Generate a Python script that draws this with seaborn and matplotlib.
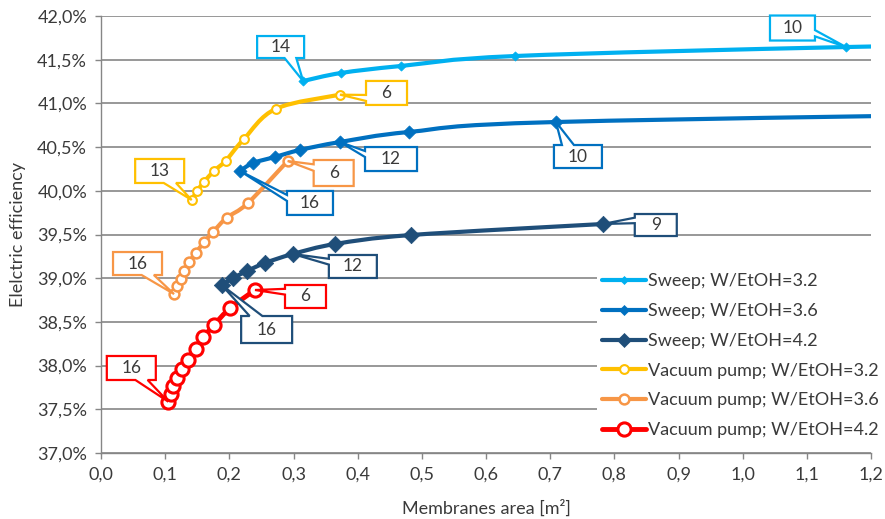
import numpy as np
import pandas as pd
import seaborn as sns
import matplotlib
matplotlib.use("Agg")
import matplotlib.pyplot as plt
import matplotlib.transforms as mtransforms
from matplotlib.path import Path
from matplotlib.patches import PathPatch, Polygon
from matplotlib.lines import Line2D
from matplotlib.ticker import FuncFormatter

# ---------------------------------------------------------------------------
# Data: membrane area [m2] vs electric efficiency [%]; "n" is the number of
# modules/stages used for each operating point.
# ---------------------------------------------------------------------------
sweep_32_area = [0.315, 0.374, 0.4675, 0.645, 1.161, 1.60]
sweep_32_eff = [41.256, 41.348, 41.428, 41.542, 41.645, 41.70]
sweep_32_n = [14, 13, 12, 11, 10, 9]

sweep_36_area = [0.2166, 0.237, 0.271, 0.310, 0.3725, 0.480, 0.709, 1.60]
sweep_36_eff = [40.227, 40.318, 40.387, 40.467, 40.558, 40.673, 40.787, 40.90]
sweep_36_n = [16, 15, 14, 13, 12, 11, 10, 9]

sweep_42_area = [0.188, 0.206, 0.2275, 0.2556, 0.299, 0.3647, 0.483, 0.782]
sweep_42_eff = [38.922, 39.002, 39.082, 39.174, 39.277, 39.391, 39.494, 39.620]
sweep_42_n = [16, 15, 14, 13, 12, 11, 10, 9]

vac_32_area = [0.1413, 0.1496, 0.1605, 0.176, 0.1943, 0.2228, 0.2727, 0.3725]
vac_32_eff = [39.895, 39.998, 40.101, 40.227, 40.344, 40.593, 40.939, 41.100]
vac_32_n = [13, 12, 11, 10, 9, 8, 7, 6]

vac_36_area = [0.1138, 0.118, 0.1242, 0.1298, 0.1376, 0.148, 0.1605, 0.175,
               0.1959, 0.2286, 0.2909]
vac_36_eff = [38.819, 38.911, 38.994, 39.082, 39.185, 39.292, 39.411, 39.532,
              39.692, 39.857, 40.341]
vac_36_n = [16, 15, 14, 13, 12, 11, 10, 9, 8, 7, 6]

vac_42_area = [0.1049, 0.1085, 0.1127, 0.1189, 0.1258, 0.136, 0.1476, 0.1594,
               0.1761, 0.201, 0.240]
vac_42_eff = [37.587, 37.675, 37.767, 37.855, 37.958, 38.064, 38.190, 38.324,
              38.465, 38.656, 38.865]
vac_42_n = [16, 15, 14, 13, 12, 11, 10, 9, 8, 7, 6]

series_names = ["Sweep; W/EtOH=3.2", "Sweep; W/EtOH=3.6", "Sweep; W/EtOH=4.2",
                "Vacuum pump; W/EtOH=3.2", "Vacuum pump; W/EtOH=3.6",
                "Vacuum pump; W/EtOH=4.2"]

x_ticks = [0.0, 0.1, 0.2, 0.3, 0.4, 0.5, 0.6, 0.7, 0.8, 0.9, 1.0, 1.1, 1.2]
y_ticks = [37.0, 37.5, 38.0, 38.5, 39.0, 39.5, 40.0, 40.5, 41.0, 41.5, 42.0]

frames = []
for name, a, e, n in zip(series_names,
                         [sweep_32_area, sweep_36_area, sweep_42_area, vac_32_area, vac_36_area, vac_42_area],
                         [sweep_32_eff, sweep_36_eff, sweep_42_eff, vac_32_eff, vac_36_eff, vac_42_eff],
                         [sweep_32_n, sweep_36_n, sweep_42_n, vac_32_n, vac_36_n, vac_42_n]):
    frames.append(pd.DataFrame({"series": name, "area": a, "eff": e, "n": n}))
df = pd.concat(frames, ignore_index=True)

# Styles per series: colour, line width, marker, marker size, face, edge width
styles = {
    "Sweep; W/EtOH=3.2": dict(color="#00B0F0", lw=3.0, marker="D", s=22, face=None, mew=0.5),
    "Sweep; W/EtOH=3.6": dict(color="#0070C0", lw=3.0, marker="D", s=45, face=None, mew=0.5),
    "Sweep; W/EtOH=4.2": dict(color="#1F4E79", lw=3.0, marker="D", s=70, face=None, mew=0.5),
    "Vacuum pump; W/EtOH=3.2": dict(color="#FFC000", lw=3.0, marker="o", s=40, face="white", mew=1.5),
    "Vacuum pump; W/EtOH=3.6": dict(color="#F79646", lw=3.0, marker="o", s=50, face="white", mew=1.8),
    "Vacuum pump; W/EtOH=4.2": dict(color="#FF0000", lw=3.5, marker="o", s=90, face="white", mew=2.2),
}

# Callouts: series, index of the point, box centre offset (px, downward positive), box size (px)
callouts = [
    ("Sweep; W/EtOH=3.2", 0, (-22.5, -34), (47, 22)),
    ("Sweep; W/EtOH=3.2", 4, (-53.5, -19), (45, 25)),
    ("Sweep; W/EtOH=3.6", 0, (70, 32), (46, 24)),
    ("Sweep; W/EtOH=3.6", 4, (51, 17), (52, 24)),
    ("Sweep; W/EtOH=3.6", 6, (22, 34.5), (48, 23)),
    ("Sweep; W/EtOH=4.2", 0, (45, 44.5), (51, 27)),
    ("Sweep; W/EtOH=4.2", 4, (60, 12.5), (48, 23)),
    ("Sweep; W/EtOH=4.2", 7, (53, 1), (42, 22)),
    ("Vacuum pump; W/EtOH=3.2", 0, (-32, -29), (49, 24)),
    ("Vacuum pump; W/EtOH=3.2", 7, (46.5, -1.7), (41, 24)),
    ("Vacuum pump; W/EtOH=3.6", 0, (-36.5, -30.5), (49, 23)),
    ("Vacuum pump; W/EtOH=3.6", 10, (46, 12), (40, 26)),
    ("Vacuum pump; W/EtOH=4.2", 0, (-37, -33.7), (49, 24)),
    ("Vacuum pump; W/EtOH=4.2", 10, (50.5, 6.5), (41, 23)),
]

sns.set_theme(style="white")
plt.rcParams["font.family"] = ["Lato", "DejaVu Sans"]
TEXT = "#3a3a3a"
GRID = "#868686"
FS = 13

fig = plt.figure(figsize=(8.85, 5.19), dpi=100)
ax = fig.add_axes([101 / 885, 1 - 453 / 519, 770 / 885, 437 / 519])


def smooth_path(x, y):
    """Bezier path through the points, smoothed like a spreadsheet chart line."""
    pts = np.column_stack([x, y]).astype(float)
    n = len(pts)
    verts = [pts[0]]
    codes = [Path.MOVETO]
    for i in range(n - 1):
        p0 = pts[i - 1] if i > 0 else pts[i]
        p1, p2 = pts[i], pts[i + 1]
        p3 = pts[i + 2] if i + 2 < n else pts[i + 1]
        verts += [p1 + (p2 - p0) / 6.0, p2 - (p3 - p1) / 6.0, p2]
        codes += [Path.CURVE4] * 3
    return Path(verts, codes)


handles = []
for k, name in enumerate(series_names):
    st = styles[name]
    d = df[df["series"] == name]
    ax.add_patch(PathPatch(smooth_path(d["area"], d["eff"]), fill=False,
                           edgecolor=st["color"], lw=st["lw"], zorder=3 + 2 * k,
                           capstyle="round", joinstyle="round"))
    face = st["face"] if st["face"] else st["color"]
    sns.scatterplot(data=d, x="area", y="eff", ax=ax, marker=st["marker"], s=st["s"],
                    color=face, edgecolor=st["color"], linewidth=st["mew"],
                    zorder=4 + 2 * k, legend=False)
    ms = np.sqrt(st["s"])
    handles.append(Line2D([], [], color=st["color"], lw=st["lw"], marker=st["marker"],
                          markersize=ms * (0.8 if st["marker"] == "D" else 1.0),
                          markerfacecolor=face, markeredgecolor=st["color"],
                          markeredgewidth=st["mew"]))

ax.set_xlim(0, 1.2)
ax.set_ylim(37, 42)
ax.set_xticks(x_ticks)
ax.set_yticks(y_ticks)
ax.xaxis.set_major_formatter(FuncFormatter(lambda v, p: f"{v:.1f}".replace(".", ",")))
ax.yaxis.set_major_formatter(FuncFormatter(lambda v, p: f"{v:.1f}%".replace(".", ",")))
ax.yaxis.grid(True, color=GRID, lw=1.2)
ax.xaxis.grid(False)
ax.set_axisbelow(True)
for side in ["top", "right"]:
    ax.spines[side].set_visible(False)
for side in ["left", "bottom"]:
    ax.spines[side].set_color(GRID)
    ax.spines[side].set_linewidth(1.0)
ax.tick_params(axis="both", which="major", direction="out", length=4, width=1,
               color=GRID, labelsize=FS, labelcolor=TEXT, pad=6,
               bottom=True, left=True)
ax.set_xlabel("Membranes area [m²]", fontsize=FS, color=TEXT, labelpad=12)
ax.set_ylabel("Elelctric efficiency", fontsize=FS, color=TEXT, labelpad=8)

leg = ax.legend(handles, series_names, loc="upper left",
                bbox_to_anchor=((597 - 101) / 770, (453 - 268) / 437),
                frameon=True, facecolor="white", edgecolor="none", framealpha=1,
                fontsize=FS, handlelength=2.4, handletextpad=0.1,
                labelspacing=0.76, borderaxespad=0, borderpad=0.3,
                labelcolor=TEXT, fancybox=False)
leg.set_zorder(20)

# Draw the callout boxes (rectangle with a wedge pointing to the labelled point)
ident = mtransforms.IdentityTransform()
for name, idx, (cx, cy), (w, h) in callouts:
    st = styles[name]
    d = df[df["series"] == name].reset_index(drop=True)
    px, py = ax.transData.transform((d.loc[idx, "area"], d.loc[idx, "eff"]))
    label = str(int(d.loc[idx, "n"]))
    l, r, t, b = cx - w / 2, cx + w / 2, cy - h / 2, cy + h / 2
    dxp, dyp = -cx, -cy  # tip relative to box centre (tip sits at the point)
    on_tb = abs(dyp) * w > abs(dxp) * h
    if dxp > 0:
        xa, xb = l + w * 7 / 12, l + w * 10 / 12
    else:
        xa, xb = l + w * 2 / 12, l + w * 5 / 12
    if dyp > 0:
        ya, yb = t + h * 7 / 12, t + h * 10 / 12
    else:
        ya, yb = t + h * 2 / 12, t + h * 5 / 12
    tip = (0.0, 0.0)
    verts = [(l, t)]
    if on_tb and dyp < 0:
        verts += [(xa, t), tip, (xb, t)]
    verts += [(r, t)]
    if (not on_tb) and dxp > 0:
        verts += [(r, ya), tip, (r, yb)]
    verts += [(r, b)]
    if on_tb and dyp > 0:
        verts += [(xb, b), tip, (xa, b)]
    verts += [(l, b)]
    if (not on_tb) and dxp < 0:
        verts += [(l, yb), tip, (l, ya)]
    disp = [(px + u, py - v) for u, v in verts]
    poly = Polygon(disp, closed=True, facecolor="white", edgecolor=st["color"],
                   lw=1.6, joinstyle="miter", transform=ident, zorder=30)
    fig.add_artist(poly)
    fig.text((px + cx) / fig.bbox.width, (py - cy) / fig.bbox.height, label,
             ha="center", va="center", fontsize=12.5, color=TEXT, zorder=31)

fig.savefig("out.png", dpi=100)
